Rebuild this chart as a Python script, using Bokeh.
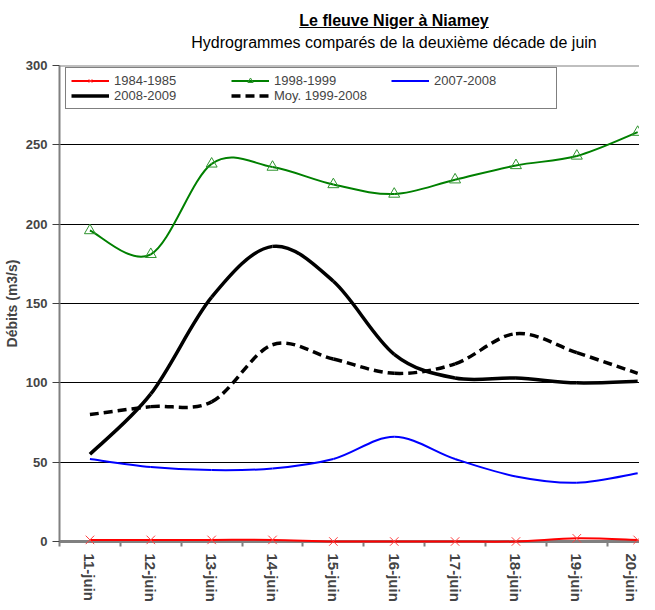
from bokeh.plotting import figure
from bokeh.models import (Range1d, FixedTicker, Legend, LegendItem, Span, Div,
                          CustomJSTickFormatter)
from bokeh.layouts import column
from bokeh.embed import file_html
from bokeh.resources import INLINE

# ---- data ----
days = ["11-juin", "12-juin", "13-juin", "14-juin", "15-juin",
        "16-juin", "17-juin", "18-juin", "19-juin", "20-juin"]
s1984_1985 = [1, 1, 1, 1, 0, 0, 0, 0, 2, 1]
s1998_1999 = [196, 181, 238, 236, 225, 219, 228, 237, 243, 258]
s2007_2008 = [52, 47, 45, 46, 52, 66, 52, 41, 37, 43]
s2008_2009 = [55, 93, 154, 186, 164, 118, 103, 103, 100, 101]
moy_1999_2008 = [80, 85, 88, 124, 115, 106, 112, 131, 119, 106]
y_ticks = [0, 50, 100, 150, 200, 250, 300]
grid_ticks = [50, 100, 150, 200, 250]

FONT = "Liberation Sans"
xs = [i + 0.5 for i in range(len(days))]


def smooth_segments(xv, yv):
    """Bezier control points (Catmull-Rom style smoothing, as a spreadsheet's smoothed line)."""
    n = len(xv)
    d = dict(x0=[], y0=[], x1=[], y1=[], cx0=[], cy0=[], cx1=[], cy1=[])
    for i in range(n - 1):
        a = i - 1 if i > 0 else i
        b = i + 2 if i + 2 < n else i + 1
        d["x0"].append(xv[i]); d["y0"].append(yv[i])
        d["x1"].append(xv[i + 1]); d["y1"].append(yv[i + 1])
        d["cx0"].append(xv[i] + (xv[i + 1] - xv[a]) / 6.0)
        d["cy0"].append(yv[i] + (yv[i + 1] - yv[a]) / 6.0)
        d["cx1"].append(xv[i + 1] - (xv[b] - xv[i]) / 6.0)
        d["cy1"].append(yv[i + 1] - (yv[b] - yv[i]) / 6.0)
    return d


title_html = (
    '<div style="width:639px;font-family:\'Liberation Sans\',Arial,sans-serif;color:#000;">'
    '<div style="margin-left:139px;width:500px;text-align:center;font-weight:bold;'
    'font-size:16px;line-height:18px;padding-top:7px;text-decoration:underline;white-space:nowrap;">'
    'Le fleuve Niger à Niamey</div>'
    '<div style="margin-left:139px;width:500px;text-align:center;font-size:16px;'
    'line-height:20px;margin-top:3px;white-space:nowrap;">'
    'Hydrogrammes comparés de la deuxième décade de juin</div></div>'
)
header = Div(text=title_html, width=639, height=47)

p = figure(width=639, height=547, x_range=Range1d(0, 9.53), y_range=Range1d(0, 300),
           output_backend="svg", toolbar_location=None,
           min_border_left=54, min_border_right=0, min_border_top=8, min_border_bottom=62)
p.outline_line_color = None
p.background_fill_color = "white"
p.border_fill_color = "white"

p.xgrid.visible = False
p.ygrid.ticker = FixedTicker(ticks=grid_ticks)
p.ygrid.grid_line_color = "black"
p.ygrid.grid_line_width = 1

p.add_layout(Span(location=300, dimension="width", line_color="#808080", line_width=2))

# y axis
ya = p.yaxis[0]
ya.ticker = FixedTicker(ticks=y_ticks)
ya.axis_label = "Débits (m3/s)"
ya.axis_label_text_font = FONT
ya.axis_label_text_font_style = "bold"
ya.axis_label_text_font_size = "14px"
ya.axis_label_standoff = 3
ya.major_label_text_font = FONT
ya.major_label_text_font_style = "bold"
ya.major_label_text_font_size = "13px"
ya.major_label_standoff = 5
ya.major_tick_out = 7
ya.major_tick_in = 0
ya.major_tick_line_color = "#404040"
ya.minor_tick_line_color = None
ya.axis_line_color = "#808080"
ya.axis_line_width = 2

# x axis
xa = p.xaxis[0]
xa.ticker = FixedTicker(ticks=xs, minor_ticks=[float(i) for i in range(len(days))])
xa.formatter = CustomJSTickFormatter(args=dict(days=days),
                                     code="return days[Math.floor(tick)];")
xa.major_label_orientation = "vertical"
xa.major_label_text_font = FONT
xa.major_label_text_font_style = "bold"
xa.major_label_text_font_size = "15px"
xa.major_label_standoff = 7
xa.major_tick_line_color = None
xa.major_tick_out = 0
xa.major_tick_in = 0
xa.minor_tick_out = 5
xa.minor_tick_in = 0
xa.minor_tick_line_color = "#808080"
xa.minor_tick_line_width = 2
xa.axis_line_color = "#808080"
xa.axis_line_width = 3

# series
r_green = p.bezier(line_color="#008000", line_width=2, **smooth_segments(xs, s1998_1999))
m_green = p.scatter(xs, s1998_1999, marker="triangle", size=11, line_color="#2E942E",
                    fill_color=None, line_width=1)
r_blue = p.bezier(line_color="#0000FF", line_width=2, **smooth_segments(xs, s2007_2008))
r_black = p.bezier(line_color="black", line_width=3.5, **smooth_segments(xs, s2008_2009))
r_moy = p.bezier(line_color="black", line_width=3.5, line_dash="9 5",
                 **smooth_segments(xs, moy_1999_2008))
# the near-zero series sits on the axis: draw it above the axis line
r_red = p.bezier(line_color="#FF0000", line_width=2, level="overlay",
                 **smooth_segments(xs, s1984_1985))
m_red = p.scatter(xs, s1984_1985, marker="x", size=12, line_color="#FF4040", line_width=1,
                  level="overlay")

legend = Legend(items=[
    LegendItem(label="1984-1985", renderers=[r_red, m_red]),
    LegendItem(label="1998-1999", renderers=[r_green, m_green]),
    LegendItem(label="2007-2008", renderers=[r_blue]),
    LegendItem(label="2008-2009", renderers=[r_black]),
    LegendItem(label="Moy. 1999-2008", renderers=[r_moy]),
], location=(6, 432), orientation="horizontal", ncols=3)
legend.label_text_font = FONT
legend.label_text_font_size = "13px"
legend.label_height = 13
legend.glyph_height = 13
legend.glyph_width = 38
legend.label_width = 117
legend.label_standoff = 5
legend.padding = 5
legend.spacing = 0
legend.margin = 0
legend.border_line_color = "black"
legend.border_line_width = 1
legend.background_fill_color = "white"
legend.background_fill_alpha = 1
p.add_layout(legend)

layout = column(header, p, spacing=0)
open("out.html", "w").write(file_html(layout, INLINE))
